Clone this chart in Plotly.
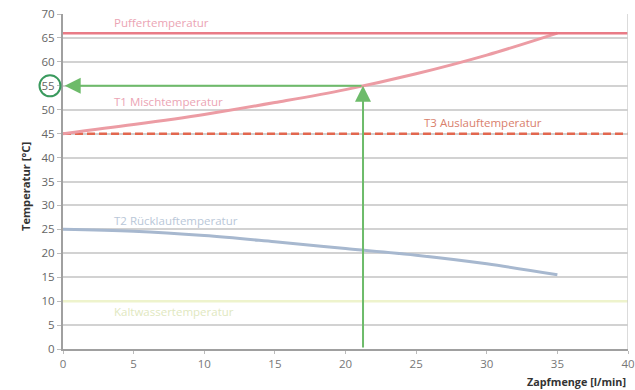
import plotly.graph_objects as go

# Data
flow = [0, 5, 10, 15, 20, 25, 30, 35]
t1_mix = [45, 46.9, 49.0, 51.5, 54.2, 57.5, 61.4, 66]
t2_return = [25, 24.6, 23.7, 22.4, 21.0, 19.6, 17.8, 15.5]
buffer_temp = 66
t3_outlet = 45
cold_water = 10
x_range = [0, 40]
marker_flow = 21.24
marker_temp = 55

labels = {
    "Puffertemperatur": (3.5, 68.2, "#eba4b4"),
    "T1 Mischtemperatur": (3.5, 51.8, "#eba4b4"),
    "T3 Auslauftemperatur": (25.4, 47.4, "#d9806c"),
    "T2 Rücklauftemperatur": (3.5, 26.9, "#b9c7d8"),
    "Kaltwassertemperatur": (3.5, 7.8, "#dfe8bf"),
}

FONT = "Open Sans"
GREEN = "#6dbb6a"

fig = go.Figure()

fig.add_trace(go.Scatter(x=x_range, y=[cold_water] * 2, mode="lines",
                         line=dict(color="#eef3cc", width=2.5), hoverinfo="skip"))
fig.add_trace(go.Scatter(x=flow, y=t2_return, mode="lines", line_shape="spline",
                         line=dict(color="#a7b8cf", width=3), hoverinfo="skip"))
fig.add_trace(go.Scatter(x=x_range, y=[t3_outlet] * 2, mode="lines",
                         line=dict(color="#e2674f", width=2.5, dash="8px,4px"), hoverinfo="skip"))
fig.add_trace(go.Scatter(x=flow, y=t1_mix, mode="lines", line_shape="spline",
                         line=dict(color="#ec9ca4", width=3), hoverinfo="skip"))
fig.add_trace(go.Scatter(x=x_range, y=[buffer_temp] * 2, mode="lines",
                         line=dict(color="#e97b86", width=2.5), hoverinfo="skip"))

# green arrows
fig.add_annotation(x=marker_flow, y=marker_temp, ax=marker_flow, ay=0,
                   xref="x", yref="y", axref="x", ayref="y", text="",
                   showarrow=True, arrowhead=2, arrowsize=1.6, arrowwidth=2,
                   arrowcolor=GREEN, standoff=0)
fig.add_annotation(x=0.12, y=marker_temp, ax=marker_flow, ay=marker_temp,
                   xref="x", yref="y", axref="x", ayref="y", text="",
                   showarrow=True, arrowhead=2, arrowsize=1.6, arrowwidth=2,
                   arrowcolor=GREEN, standoff=0)

for txt, (lx, ly, col) in labels.items():
    fig.add_annotation(x=lx, y=ly, xref="x", yref="y", text=txt, showarrow=False,
                       xanchor="left", yanchor="middle",
                       font=dict(family=FONT, size=11.5, color=col))

W, H = 635, 390
plot_l, plot_r, plot_t, plot_b = 63, 628, 14, 349  # page pixels
ml, mt = plot_l, plot_t
mr, mb = W - plot_r, H - plot_b
pw, ph = plot_r - plot_l, plot_b - plot_t


def px(xp):
    return (xp - plot_l) / pw


def py(yp):
    return (plot_b - yp) / ph


# circle around 55
r = 10.5
cx, cy = px(50), py(85.8)
fig.add_shape(type="circle", xref="paper", yref="paper",
              x0=cx - r / pw, x1=cx + r / pw, y0=cy - r / ph, y1=cy + r / ph,
              line=dict(color="#3a9a5e", width=2))

# right border
fig.add_shape(type="line", xref="x", yref="y", x0=40, x1=40, y0=0, y1=70,
              line=dict(color="#cfcfcf", width=1.5))

fig.add_annotation(x=1, y=py(381), xref="paper", yref="paper",
                   text="<b>Zapfmenge [l/min]</b>", showarrow=False,
                   xanchor="right", yanchor="middle",
                   font=dict(family=FONT, size=10.8, color="#333333"))
fig.add_annotation(x=px(25), y=py(187), xref="paper", yref="paper",
                   text="<b>Temperatur [°C]</b>", showarrow=False, textangle=-90,
                   xanchor="center", yanchor="middle",
                   font=dict(family=FONT, size=11.2, color="#333333"))

fig.update_layout(
    width=W, height=H, showlegend=False,
    margin=dict(l=ml, r=mr, t=mt, b=mb, autoexpand=False),
    paper_bgcolor="white", plot_bgcolor="white",
    font=dict(family=FONT, size=11.5, color="#666666"),
    xaxis=dict(range=x_range, tickvals=list(range(0, 41, 5)), showgrid=False,
               zeroline=False, showline=True, linecolor="#a0a0a0", linewidth=2,
               ticks="outside", ticklen=3, tickcolor="#bbbbbb", automargin=False,
               ticklabeloverflow="allow",
               tickfont=dict(color="#777777", size=11.5)),
    yaxis=dict(range=[0, 70], tickvals=list(range(0, 71, 5)), showgrid=True,
               gridcolor="#d2d2d2", gridwidth=1.5, zeroline=False,
               showline=True, linecolor="#a0a0a0", linewidth=2, automargin=False,
               ticklabeloverflow="allow",
               ticks="outside", ticklen=4, tickcolor="#bbbbbb",
               tickfont=dict(color="#666666", size=11.5)),
)

fig.write_html("out.html", config={"displayModeBar": False},
               post_script="document.body.style.margin='0';document.body.style.overflow='hidden';")
